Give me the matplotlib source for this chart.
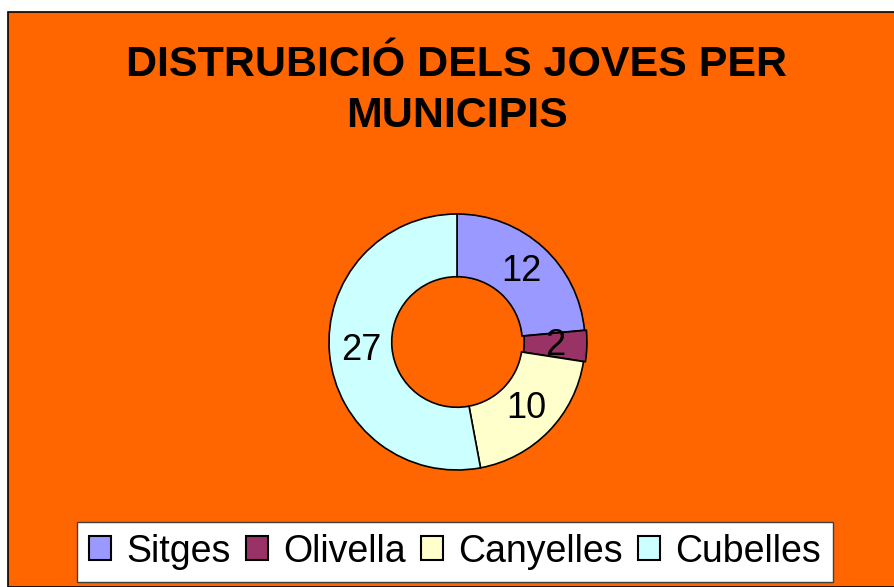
import matplotlib.pyplot as plt
from matplotlib.patches import Rectangle

plt.rcParams['font.family'] = ['Liberation Sans', 'DejaVu Sans']

# dades
municipis = ['Sitges', 'Olivella', 'Canyelles', 'Cubelles']
joves = [12, 2, 10, 27]
colors = ['#9999FF', '#993366', '#FFFFCC', '#CCFFFF']
explode = [0, 0.015, 0, 0]
titol = 'DISTRUBICIÓ DELS JOVES PER\nMUNICIPIS'

W, H = 895, 587
fig = plt.figure(figsize=(W / 100, H / 100), dpi=100, facecolor='white')

# fons taronja amb vora negra (només dalt i esquerra visibles)
fons = Rectangle((8 / W, 0), 1.0, 1 - 12 / H, transform=fig.transFigure,
                 facecolor='#FF6600', edgecolor='black', linewidth=1.2,
                 zorder=-5)
fig.patches.append(fons)

# rosquilla
cx, cy, r, half = 457, 342, 128, 150
ax = fig.add_axes([(cx - half) / W, (H - cy - half) / H, 2 * half / W, 2 * half / H])
ax.set_zorder(2)
ax.set_facecolor('none')
total = sum(joves)
wedges, _, autotexts = ax.pie(
    joves, colors=colors, startangle=90, counterclock=False, radius=1,
    explode=explode,
    wedgeprops=dict(width=0.49, edgecolor='black', linewidth=1.2),
    autopct=lambda p: '%d' % round(p * total / 100), pctdistance=0.75,
    textprops=dict(fontsize=26, color='black'))
lim = half / r
ax.set_xlim(-lim, lim)
ax.set_ylim(-lim, lim)
ax.set_aspect('equal')
ax.axis('off')

fig.text(457 / W, 1 - 90.5 / H, titol, ha='center', va='center',
         fontsize=31, fontweight='bold', linespacing=1.35)

leg = fig.legend(wedges, municipis, loc='center', ncol=4,
                 bbox_to_anchor=(455 / W, 1 - 551.5 / H),
                 fontsize=27, frameon=True, fancybox=False, framealpha=1,
                 edgecolor='#404040', handlelength=0.6, handleheight=0.6,
                 handletextpad=0.4, columnspacing=0.4, borderpad=0.32)
leg.get_frame().set_linewidth(1.0)
leg.set_zorder(3)
for h in leg.legend_handles:
    h.set_linewidth(1.5)

fig.savefig('out.png', dpi=100, facecolor='white')
